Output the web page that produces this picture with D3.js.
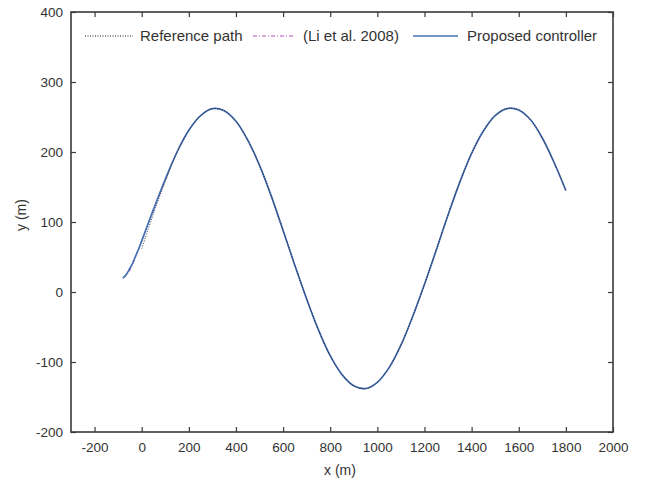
<!DOCTYPE html>
<html><head><meta charset="utf-8">
<script src="https://cdn.jsdelivr.net/npm/d3@7"></script>
<style>body{margin:0;background:#fff;}text{font-family:"Liberation Sans",Arial,sans-serif;}</style>
</head><body>
<svg id="c" width="646" height="480"></svg>
<script>
const xTicks=[-200,0,200,400,600,800,1000,1200,1400,1600,1800,2000];
const yTicks=[-200,-100,0,100,200,300,400];
const legendLabels=["Reference path","(Li et al. 2008)","Proposed controller"];
// reference path (x, y) in metres
const refX=[0,50,100,150,200,250,300,350,400,450,500,550,600,650,700,750,800,850,900,950,1000,1050,1100,1150,1200,1250,1300,1350,1400,1450,1500,1550,1600,1650,1700,1750,1800];
const refY=[62,112,158,199,231,252,262,259,244,217,181,137,88,38,-10,-54,-91,-118,-134,-138,-129,-108,-76,-35,11,60,110,157,198,230,252,262,260,246,220,185,145];
// Li et al. 2008
const liX=[-80,-65,-50,-35,-20,0,20,50,100,150,200,250,300,350,400,450,500,550,600,650,700,750,800,850,900,950,1000,1050,1100,1150,1200,1250,1300,1350,1400,1450,1500,1550,1600,1650,1700,1750,1800];
const liY=[20,24,31,42,56,73,91,117,160,200,231,252,262,259,244,217,181,137,88,38,-10,-54,-91,-118,-134,-138,-129,-108,-76,-35,11,60,110,157,198,230,252,262,260,246,220,185,145];
// proposed controller
const prX=[-80,-70,-60,-50,-40,-25,-10,0,20,50,100,150,200,250,300,350,400,450,500,550,600,650,700,750,800,850,900,950,1000,1050,1100,1150,1200,1250,1300,1350,1400,1450,1500,1550,1600,1650,1700,1750,1800];
const prY=[20,23,28,34,40,52,64,73,91,118,161,200,231,252,262,259,244,217,181,137,88,38,-10,-54,-91,-118,-134,-138,-129,-108,-76,-35,11,60,110,157,198,230,252,262,260,246,220,185,145];

const svg=d3.select("#c");
const L=71,R=613,T=12,B=432;
const x=d3.scaleLinear().domain([-300,2000]).range([L,R]);
const y=d3.scaleLinear().domain([-200,400]).range([B,T]);
const axCol="#3a3a3a", txtCol="#333";
const fmt=d=>String(d);

const line=d3.line().x(d=>x(d[0])).y(d=>y(d[1])).curve(d3.curveCatmullRom);
const g=svg.append("g");
g.append("path").datum(d3.zip(liX,liY)).attr("d",line).attr("fill","none")
 .attr("stroke","#b04ab8").attr("stroke-width",1).attr("stroke-dasharray","4,2,1,2");
g.append("path").datum(d3.zip(prX,prY)).attr("d",line).attr("fill","none")
 .attr("stroke","#4470b4").attr("stroke-width",1.7);
g.append("path").datum(d3.zip(refX,refY)).attr("d",line).attr("fill","none")
 .attr("stroke","#111").attr("stroke-width",1).attr("stroke-dasharray","1,1.5").attr("opacity",0.8);

// axes
const tl=5;
const axB=svg.append("g").attr("transform",`translate(0,${B})`).call(d3.axisBottom(x).tickValues(xTicks).tickSizeInner(-tl).tickSizeOuter(0).tickPadding(10).tickFormat(fmt));
const axT=svg.append("g").attr("transform",`translate(0,${T})`).call(d3.axisTop(x).tickValues(xTicks).tickSizeInner(-tl).tickSizeOuter(0).tickFormat(""));
const axL=svg.append("g").attr("transform",`translate(${L},0)`).call(d3.axisLeft(y).tickValues(yTicks).tickSizeInner(-tl).tickSizeOuter(0).tickPadding(8).tickFormat(fmt));
const axR=svg.append("g").attr("transform",`translate(${R},0)`).call(d3.axisRight(y).tickValues(yTicks).tickSizeInner(-tl).tickSizeOuter(0).tickFormat(""));
[axB,axT,axL,axR].forEach(a=>{a.select(".domain").remove();a.selectAll("line").attr("stroke",axCol).attr("stroke-width",1.2);
 a.selectAll("text").attr("fill",txtCol).style("font-size","13.5px").style("font-family","'Liberation Sans',Arial,sans-serif");});
svg.append("rect").attr("x",L).attr("y",T).attr("width",R-L).attr("height",B-T).attr("fill","none").attr("stroke",axCol).attr("stroke-width",1.6);

// labels
svg.append("text").attr("x",340).attr("y",475).attr("text-anchor","middle").attr("fill",txtCol).style("font-size","14px").text("x (m)");
svg.append("text").attr("transform","translate(26,215) rotate(-90)").attr("text-anchor","middle").attr("fill",txtCol).style("font-size","14px").text("y (m)");

// legend
const lg=[{x1:85,x2:133,tx:140,c:"#111",dash:"1,1.5",w:1},{x1:253,x2:295,tx:303,c:"#b04ab8",dash:"4,2,1,2",w:1},{x1:413,x2:458,tx:467,c:"#4470b4",dash:null,w:1.6}];
lg.forEach((d,i)=>{
 svg.append("line").attr("x1",d.x1).attr("x2",d.x2).attr("y1",36).attr("y2",36).attr("stroke",d.c).attr("stroke-width",d.w).attr("stroke-dasharray",d.dash);
 svg.append("text").attr("x",d.tx).attr("y",41).attr("fill",txtCol).style("font-size","15px").text(legendLabels[i]);
});
</script>
</body></html>
